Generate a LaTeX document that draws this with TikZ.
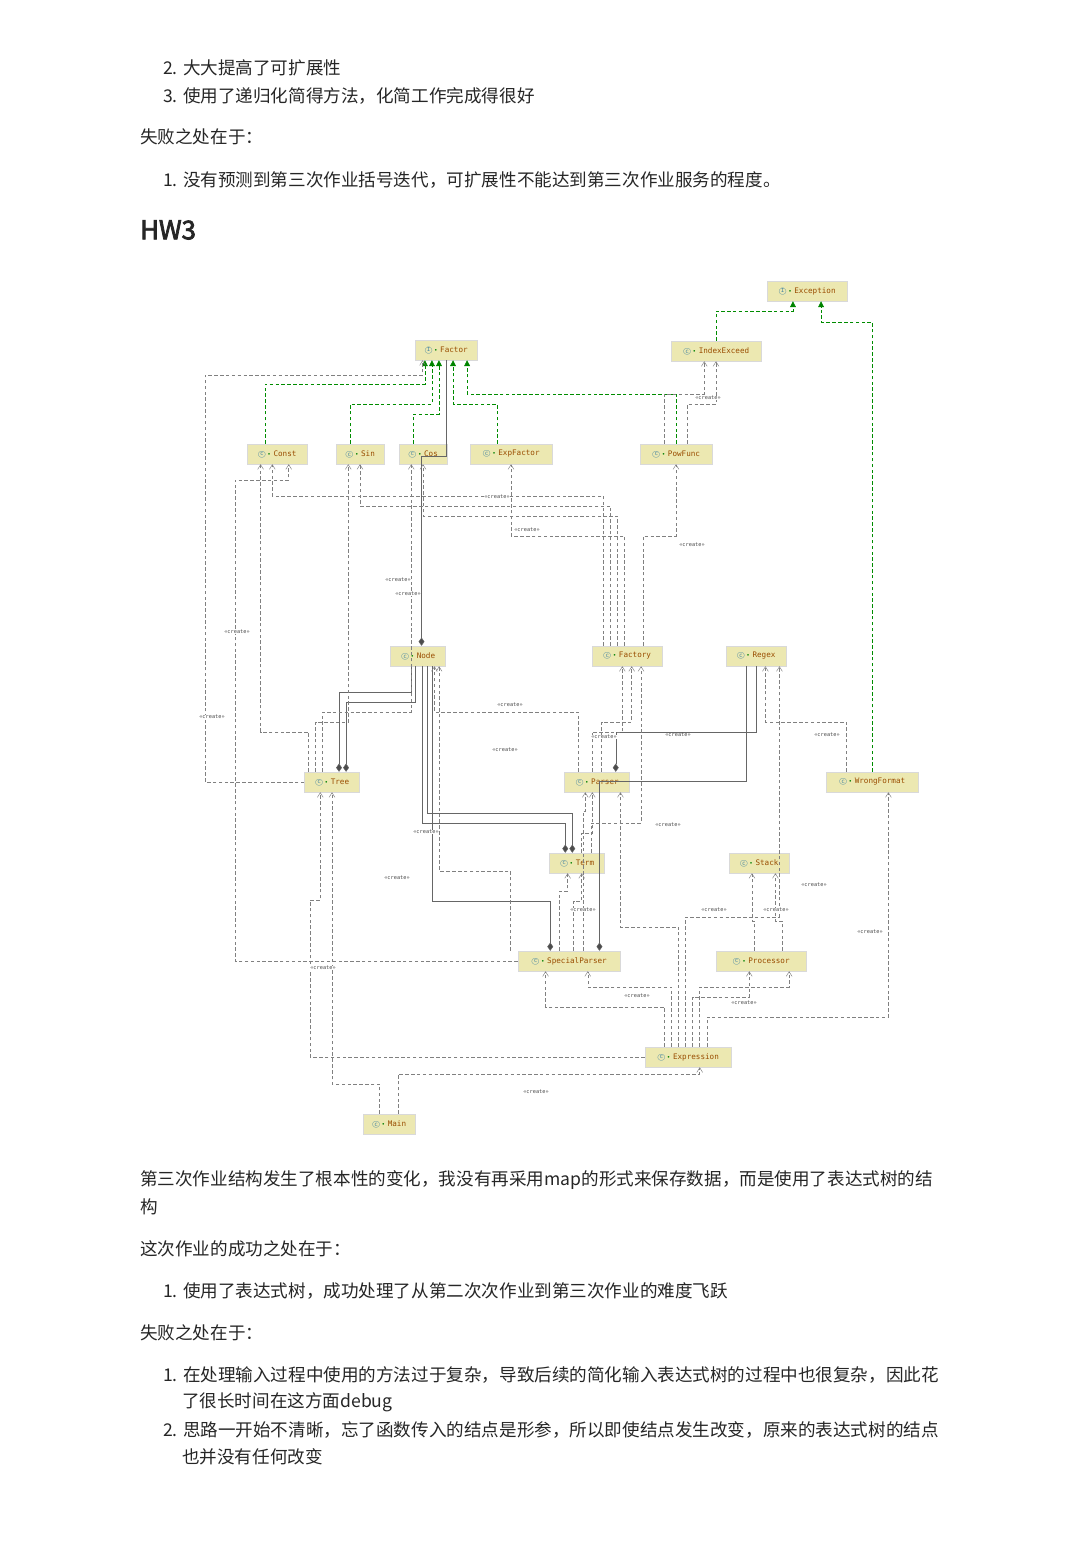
\documentclass[tikz,border=0pt]{standalone}
\usepackage{fontspec}
\setmainfont{Noto Sans CJK SC}
\newfontfamily\hwfont[FakeBold=3]{Noto Sans CJK SC}
\setmonofont{DejaVu Sans Mono}
\usetikzlibrary{arrows.meta,positioning}

\tikzset{
  cls/.style={draw=black!15, fill=yellow!30!olive!25, minimum height=20*0.03cm, inner sep=1pt, font=\ttfamily\fontsize{6.5}{7}\selectfont, text=orange!60!black},
  dep/.style={draw=gray, dashed, dash pattern=on 3pt off 2pt, -{Straight Barb[length=4pt,width=5pt]}},
  impl/.style={draw=green!55!black, dashed, dash pattern=on 3pt off 2pt, -{Triangle[length=5pt,width=5pt,fill=green!50!black]}},
  comp/.style={draw=black!60, {Diamond[length=7pt,width=5pt,fill=black!70]}-},
  lbl/.style={font=\ttfamily\fontsize{4.5}{5}\selectfont, text=black!70, fill=white, inner sep=0.5pt},
  txt/.style={anchor=west, font=\fontsize{15}{18}\selectfont, text=black!85, inner sep=0pt}
}
\newcommand{\ico}[1]{{\color{cyan!60!black}\textcircled{\tiny #1}}\,{\color{green!50!black}\tiny\textbullet}\,\,}

\begin{document}
\begin{tikzpicture}[x=0.03cm,y=-0.03cm]
  \useasboundingbox[fill=white] (0,0) rectangle (1090,1543);

  % text above
  \node[txt] (t1) at (163,68) {2. 大大提高了可扩展性};
  \node[txt] (t2) at (163,96) {3. 使用了递归化简得方法，化简工作完成得很好};
  \node[txt] (t3) at (140,137) {失败之处在于：};
  \node[txt] (t4) at (163,180) {1. 没有预测到第三次作业括号迭代，可扩展性不能达到第三次作业服务的程度。};
  \node[txt, font=\hwfont\fontsize{22}{26}\selectfont] (hw) at (140,230) {HW3};

  % classes
  \node[cls, minimum width=80*0.03cm] (Exception) at (807,291) {\ico{I}Exception};
  \node[cls, minimum width=62*0.03cm] (Factor) at (446,350) {\ico{I}Factor};
  \node[cls, minimum width=90*0.03cm] (IndexExceed) at (716,351) {\ico{c}IndexExceed};
  \node[cls, minimum width=60*0.03cm] (Const) at (277,454) {\ico{c}Const};
  \node[cls, minimum width=48*0.03cm] (Sin) at (360,454) {\ico{c}Sin};
  \node[cls, minimum width=48*0.03cm] (Cos) at (423,454) {\ico{c}Cos};
  \node[cls, minimum width=82*0.03cm] (ExpFactor) at (511,454) {\ico{c}ExpFactor};
  \node[cls, minimum width=72*0.03cm] (PowFunc) at (676,454) {\ico{c}PowFunc};
  \node[cls, minimum width=55*0.03cm] (Node) at (418,656) {\ico{c}Node};
  \node[cls, minimum width=70*0.03cm] (Factory) at (627,656) {\ico{c}Factory};
  \node[cls, minimum width=60*0.03cm] (Regex) at (756,656) {\ico{c}Regex};
  \node[cls, minimum width=55*0.03cm] (Tree) at (332,782) {\ico{c}Tree};
  \node[cls, minimum width=65*0.03cm] (Parser) at (597,782) {\ico{c}Parser};
  \node[cls, minimum width=92*0.03cm] (WrongFormat) at (872,782) {\ico{c}WrongFormat};
  \node[cls, minimum width=55*0.03cm] (Term) at (577,863) {\ico{c}Term};
  \node[cls, minimum width=60*0.03cm] (Stack) at (759,863) {\ico{c}Stack};
  \node[cls, minimum width=102*0.03cm] (SpecialParser) at (569,961) {\ico{c}SpecialParser};
  \node[cls, minimum width=90*0.03cm] (Processor) at (761,961) {\ico{c}Processor};
  \node[cls, minimum width=86*0.03cm] (Expression) at (688,1057) {\ico{c}Expression};
  \node[cls, minimum width=52*0.03cm] (Main) at (389,1124) {\ico{c}Main};

  % realizations
  \draw[impl] ([xshift=-10pt]Const.north) -- ++(0,-60) -| ([xshift=-18pt]Factor.south);
  \draw[impl] ([xshift=-8pt]Sin.north) -- ++(0,-40) -| ([xshift=-12pt]Factor.south);
  \draw[impl] ([xshift=-8pt]Cos.north) -- ++(0,-30) -| ([xshift=-6pt]Factor.south);
  \draw[impl] ([xshift=-12pt]ExpFactor.north) -- ++(0,-40) -| ([xshift=6pt]Factor.south);
  \draw[impl] (PowFunc.north) -- ++(0,-50) -| ([xshift=18pt]Factor.south);
  \draw[impl] (IndexExceed.north) -- ++(0,-30) -| ([xshift=-12pt]Exception.south);
  \draw[impl] (WrongFormat.north) -- ++(0,-450) -| ([xshift=12pt]Exception.south);

  % compositions
  \draw[comp] ([xshift=3pt]Node.north) -- ++(0,-190) -| ([xshift=0pt]Factor.south);
  \draw[comp] ([xshift=6pt]Tree.north) -- ++(0,-80) -| ([xshift=-6pt]Node.south);
  \draw[comp] ([xshift=12pt]Tree.north) -- ++(0,-70) -| ([xshift=-2pt]Node.south);
  \draw[comp] ([xshift=-10pt]Term.north) -- ++(0,-30) -| ([xshift=4pt]Node.south);
  \draw[comp] ([xshift=-4pt]Term.north) -- ++(0,-40) -| ([xshift=8pt]Node.south);
  \draw[comp] ([xshift=-16pt]SpecialParser.north) -- ++(0,-50) -| ([xshift=12pt]Node.south);
  \draw[comp] ([xshift=26pt]SpecialParser.north) -- ++(0,-170) -| ([xshift=-8pt]Regex.south);
  \draw[comp] ([xshift=16pt]Parser.north) -- ++(0,-40) -| ([xshift=0pt]Regex.south);

  % dependencies
  \draw[dep] ([xshift=-20pt]Tree.north) -- ++(0,-40) -| ([xshift=-14pt]Const.south);
  \draw[dep] ([xshift=-14pt]Tree.north) -- ++(0,-50) -| ([xshift=-10pt]Sin.south);
  \draw[dep] ([xshift=-8pt]Tree.north) -- ++(0,-60) -| ([xshift=-10pt]Cos.south);
  \draw[dep] (Tree.west) -| (205,375) -| ([xshift=-20pt]Factor.south);
  \draw[dep] ([xshift=-20pt]Factory.north) -- ++(0,-150) -| ([xshift=-4pt]Const.south);
  \draw[dep] ([xshift=-14pt]Factory.north) -- ++(0,-140) -| ([xshift=0pt]Sin.south);
  \draw[dep] ([xshift=-8pt]Factory.north) -- ++(0,-130) -| ([xshift=0pt]Cos.south);
  \draw[dep] ([xshift=-2pt]Factory.north) -- ++(0,-110) -| ([xshift=0pt]ExpFactor.south);
  \draw[dep] ([xshift=14pt]Factory.north) -- ++(0,-110) -| ([xshift=0pt]PowFunc.south);
  \draw[dep] ([xshift=-10pt]PowFunc.north) -- ++(0,-50) -| ([xshift=-10pt]IndexExceed.south);
  \draw[dep] ([xshift=10pt]PowFunc.north) -- ++(0,-40) -| ([xshift=0pt]IndexExceed.south);
  \draw[dep] ([xshift=-16pt]Parser.north) -- ++(0,-60) -| ([xshift=14pt]Node.south);
  \draw[dep] ([xshift=-4pt]Parser.north) -- ++(0,-40) -| ([xshift=-4pt]Factory.south);
  \draw[dep] ([xshift=4pt]Parser.north) -- ++(0,-50) -| ([xshift=4pt]Factory.south);
  \draw[dep] ([xshift=4pt]Term.north) -- ++(0,-20) -| ([xshift=-4pt]Parser.south);
  \draw[dep] ([xshift=12pt]Term.north) -- ++(0,-30) -| ([xshift=12pt]Factory.south);
  \draw[dep] ([xshift=-8pt]SpecialParser.north) -- ++(0,-60) -| ([xshift=-8pt]Term.south);
  \draw[dep] ([xshift=4pt]SpecialParser.north) -- ++(0,-50) -| ([xshift=4pt]Term.south);
  \draw[dep] ([xshift=12pt]SpecialParser.north) -- ++(0,-140) -| ([xshift=-10pt]Parser.south);
  \draw[dep] (SpecialParser.west) -| (235,480) -| ([xshift=10pt]Const.south);
  \draw[dep] ([xshift=-50pt]SpecialParser.north) -- ++(0,-80) -| ([xshift=18pt]Node.south);
  \draw[dep] ([xshift=-6pt]Processor.north) -- ++(0,-30) -| ([xshift=-6pt]Stack.south);
  \draw[dep] ([xshift=18pt]Processor.north) -- ++(0,-30) -| ([xshift=14pt]Stack.south);
  \draw[dep] ([xshift=-22pt]WrongFormat.north) -- ++(0,-50) -| ([xshift=8pt]Regex.south);
  \draw[dep] ([xshift=-20pt]Expression.north) -- ++(0,-40) -| ([xshift=-20pt]SpecialParser.south);
  \draw[dep] ([xshift=-14pt]Expression.north) -- ++(0,-60) -| ([xshift=16pt]SpecialParser.south);
  \draw[dep] ([xshift=4pt]Expression.north) -- ++(0,-50) -| ([xshift=-10pt]Processor.south);
  \draw[dep] ([xshift=10pt]Expression.north) -- ++(0,-60) -| ([xshift=24pt]Processor.south);
  \draw[dep] ([xshift=16pt]Expression.north) -- ++(0,-30) -| ([xshift=14pt]WrongFormat.south);
  \draw[dep] ([xshift=-8pt]Expression.north) -- ++(0,-120) -| ([xshift=20pt]Parser.south);
  \draw[dep] ([xshift=-2pt]Expression.north) -- ++(0,-130) -| ([xshift=20pt]Regex.south);
  \draw[dep] (Expression.west) -| (310,900) -| ([xshift=-10pt]Tree.south);
  \draw[dep] ([xshift=-8pt]Main.north) -- ++(0,-30) -| ([xshift=0pt]Tree.south);
  \draw[dep] ([xshift=8pt]Main.north) -- ++(0,-40) -| ([xshift=10pt]Expression.south);

  % labels
  \node[lbl] (l1) at (708,398) {«create»};
  \node[lbl] (l2) at (237,632) {«create»};
  \node[lbl] (l3) at (212,717) {«create»};
  \node[lbl] (l4) at (398,580) {«create»};
  \node[lbl] (l5) at (408,594) {«create»};
  \node[lbl] (l6) at (497,497) {«create»};
  \node[lbl] (l7) at (527,530) {«create»};
  \node[lbl] (l8) at (692,545) {«create»};
  \node[lbl] (l9) at (510,705) {«create»};
  \node[lbl] (l10) at (505,750) {«create»};
  \node[lbl] (l11) at (604,737) {«create»};
  \node[lbl] (l12) at (678,735) {«create»};
  \node[lbl] (l13) at (827,735) {«create»};
  \node[lbl] (l14) at (426,832) {«create»};
  \node[lbl] (l15) at (397,878) {«create»};
  \node[lbl] (l16) at (668,825) {«create»};
  \node[lbl] (l17) at (814,885) {«create»};
  \node[lbl] (l18) at (714,910) {«create»};
  \node[lbl] (l19) at (776,910) {«create»};
  \node[lbl] (l20) at (870,932) {«create»};
  \node[lbl] (l21) at (323,968) {«create»};
  \node[lbl] (l22) at (637,996) {«create»};
  \node[lbl] (l23) at (744,1003) {«create»};
  \node[lbl] (l24) at (536,1092) {«create»};
  \node[lbl] (l25) at (583,910) {«create»};

  % text below
  \node[txt] (b1) at (140,1180) {第三次作业结构发生了根本性的变化，我没有再采用map的形式来保存数据，而是使用了表达式树的结};
  \node[txt] (b2) at (140,1207) {构};
  \node[txt] (b3) at (140,1249) {这次作业的成功之处在于：};
  \node[txt] (b4) at (163,1291) {1. 使用了表达式树，成功处理了从第二次次作业到第三次作业的难度飞跃};
  \node[txt] (b5) at (140,1333) {失败之处在于：};
  \node[txt] (b6) at (163,1375) {1. 在处理输入过程中使用的方法过于复杂，导致后续的简化输入表达式树的过程中也很复杂，因此花};
  \node[txt] (b7) at (182,1402) {了很长时间在这方面debug};
  \node[txt] (b8) at (163,1430) {2. 思路一开始不清晰，忘了函数传入的结点是形参，所以即使结点发生改变，原来的表达式树的结点};
  \node[txt] (b9) at (182,1457) {也并没有任何改变};
\end{tikzpicture}
\end{document}
